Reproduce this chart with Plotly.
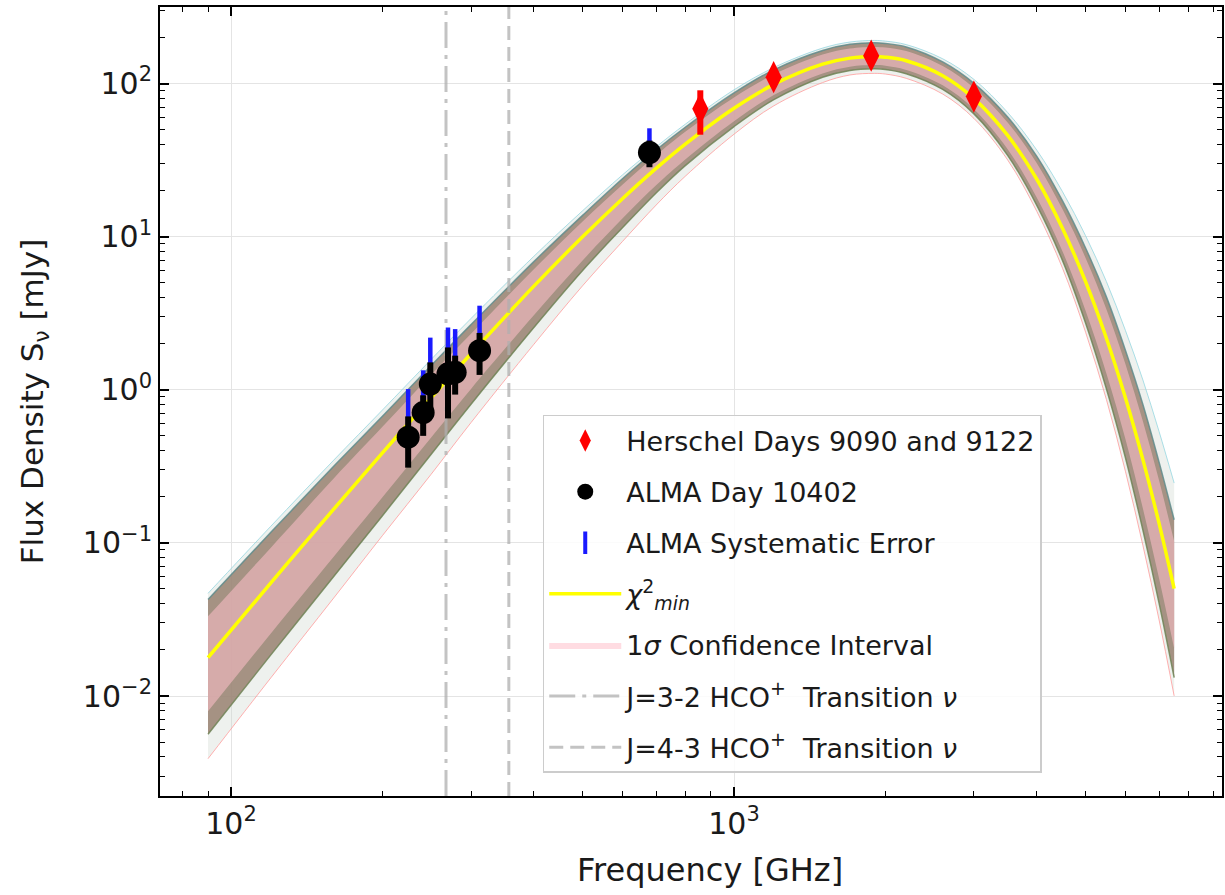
import plotly.graph_objects as go

# ---------------- data ----------------
# model frequency grid [GHz]
freq_model = [90, 120, 160, 200, 250, 300, 400, 500, 600, 700, 800, 1000, 1200,
              1500, 1700, 1900, 2000, 2200, 2600, 3000, 3500, 4000, 4500, 5000,
              5500, 6000, 6500, 7000, 7500]

# best-fit (chi^2 minimum) SED [mJy]
chi2_min = [0.0178, 0.0548, 0.166, 0.387, 0.888, 1.72, 4.75, 9.98, 17.7, 27.9,
            40.2, 69.0, 98.7, 133.7, 146.5, 150.0, 148.6, 140.9, 112.5, 79.7,
            45.8, 23.7, 11.3, 5.08, 2.17, 0.887, 0.350, 0.134, 0.0502]

# 1-sigma confidence interval
sigma_lo = [0.00795, 0.02564, 0.08131, 0.1985, 0.4880, 1.013, 3.067, 6.985, 13.12,
            21.65, 31.93, 56.73, 84.03, 116.4, 128.8, 131.9, 130.6, 122.7, 97.32,
            67.86, 37.24, 17.97, 8.000, 3.281, 1.278, 0.4764, 0.1675, 0.05850, 0.02045]
sigma_hi = [0.03313, 0.09307, 0.2631, 0.5724, 1.254, 2.320, 6.119, 12.56, 21.78,
            33.94, 48.33, 81.05, 114.6, 154.6, 169.3, 173.4, 171.8, 162.9, 130.1,
            93.64, 55.69, 30.17, 15.07, 7.259, 3.361, 1.472, 0.6223, 0.2553, 0.1025]

# envelope of the bulk of the sampled model curves
models_lo = [0.00563, 0.01857, 0.06027, 0.1506, 0.3789, 0.8043, 2.551, 6.013, 11.43,
             19.30, 29.12, 52.34, 78.41, 109.9, 121.8, 124.8, 123.6, 115.9, 91.46,
             63.33, 33.96, 16.02, 6.968, 2.729, 1.015, 0.3613, 0.1214, 0.04047, 0.01320]
models_hi = [0.0427, 0.1172, 0.3163, 0.6725, 1.440, 2.664, 6.866, 13.77, 23.88,
             36.78, 51.80, 86.85, 122.9, 164.5, 180.3, 184.6, 182.8, 173.4, 138.4,
             100.3, 60.38, 33.47, 17.10, 8.432, 4.042, 1.811, 0.8017, 0.3366, 0.1415]

# outermost sampled model curves
outer_lo = [0.003895, 0.01315, 0.04366, 0.1116, 0.2809, 0.6103, 1.980, 4.777, 9.290,
            16.06, 24.79, 46.65, 71.51, 101.4, 113.7, 116.5, 115.3, 108.1, 85.35,
            59.09, 31.69, 14.61, 6.210, 2.376, 0.8641, 0.2937, 0.09641, 0.03141, 0.01002]
outer_hi = [0.04681, 0.1285, 0.3468, 0.7374, 1.579, 2.921, 7.441, 14.76, 25.29,
            38.51, 54.23, 90.95, 127.2, 170.3, 186.6, 191.1, 189.2, 179.5, 145.0,
            106.3, 64.70, 36.70, 19.64, 10.14, 5.088, 2.443, 1.159, 0.5335, 0.2459]

# Herschel photometry (days 9090 and 9122)
herschel_freq = [857, 1199, 1874, 2998]
herschel_flux = [68.3, 110.0, 152.0, 82.2]
herschel_err = [22.0, 15.0, 20.0, 10.0]

# ALMA photometry (day 10402)
alma_freq = [225, 241, 249, 270, 279, 312, 679]
alma_flux = [0.49, 0.71, 1.09, 1.27, 1.30, 1.80, 35.4]
alma_err = [0.18, 0.21, 0.42, 0.62, 0.37, 0.55, 7.0]
alma_sys = [0.52, 0.63, 1.10, 1.28, 1.19, 1.74, 15.6]
alma_sys_lower = [0, 0, 0, 0, 0, 0, 0]

# HCO+ rest transition frequencies [GHz]
hco_32 = 267.56
hco_43 = 356.73

# axis limits (log10)
X_RANGE = [1.8588, 3.9702]
Y_RANGE = [-2.653, 2.4997]

FONT = "DejaVu Sans"
TXT = "#1a1a1a"

fig = go.Figure()

# outermost model curves
fig.add_trace(go.Scatter(x=freq_model, y=outer_lo, mode="lines",
                         line=dict(color="rgba(255,150,150,0.75)", width=1, shape="spline"),
                         showlegend=False, hoverinfo="skip"))
fig.add_trace(go.Scatter(x=freq_model, y=outer_hi, mode="lines", fill="tonexty",
                         fillcolor="rgba(205,215,205,0.35)",
                         line=dict(color="rgba(150,215,225,0.8)", width=1, shape="spline"),
                         showlegend=False, hoverinfo="skip"))
# bulk of the model curves
fig.add_trace(go.Scatter(x=freq_model, y=models_lo, mode="lines",
                         line=dict(color="rgba(110,130,85,0.85)", width=1.5, shape="spline"),
                         showlegend=False, hoverinfo="skip"))
fig.add_trace(go.Scatter(x=freq_model, y=models_hi, mode="lines", fill="tonexty",
                         fillcolor="rgba(155,132,116,0.88)",
                         line=dict(color="rgba(95,140,140,0.85)", width=1.5, shape="spline"),
                         showlegend=False, hoverinfo="skip"))
# 1 sigma band
fig.add_trace(go.Scatter(x=freq_model, y=sigma_lo, mode="lines",
                         line=dict(width=0, shape="spline"),
                         showlegend=False, hoverinfo="skip", legendgroup="sig"))
fig.add_trace(go.Scatter(x=freq_model, y=sigma_hi, mode="lines", fill="tonexty",
                         fillcolor="rgba(255,192,203,0.55)",
                         line=dict(width=0, shape="spline"),
                         name="1<i>σ</i> Confidence Interval", legendgroup="sig",
                         legendrank=5))
# best fit
fig.add_trace(go.Scatter(x=freq_model, y=chi2_min, mode="lines",
                         line=dict(color="#ffff00", width=3.5, shape="spline"),
                         name="<i>χ</i><sup>2</sup><sub><i>min</i></sub>",
                         legendgroup="chi", legendrank=4))

# HCO+ transition lines spanning the full y range
y_span = [10 ** Y_RANGE[0], 10 ** Y_RANGE[1]]
fig.add_trace(go.Scatter(x=[hco_32, hco_32], y=y_span, mode="lines",
                         line=dict(color="rgba(175,175,175,0.75)", width=3,
                                   dash="26px,7px,4px,7px"),
                         name="J=3-2 HCO<sup>+</sup>  Transition <i>ν</i>",
                         legendgroup="j32", legendrank=6))
fig.add_trace(go.Scatter(x=[hco_43, hco_43], y=y_span, mode="lines",
                         line=dict(color="rgba(175,175,175,0.75)", width=3,
                                   dash="14px,7px"),
                         name="J=4-3 HCO<sup>+</sup>  Transition <i>ν</i>",
                         legendgroup="j43", legendrank=7))

# ALMA systematic error (upper)
fig.add_trace(go.Scatter(x=alma_freq, y=alma_flux, mode="markers",
                         marker=dict(symbol="line-ns", size=16,
                                     line=dict(color="#1a1aff", width=4)),
                         error_y=dict(type="data", array=alma_sys, arrayminus=alma_sys_lower,
                                      color="#1a1aff", thickness=4.5, width=0),
                         name="ALMA Systematic Error", legendgroup="sys", legendrank=3))
# ALMA measurements
fig.add_trace(go.Scatter(x=alma_freq, y=alma_flux, mode="markers",
                         marker=dict(symbol="circle", size=23, color="black"),
                         error_y=dict(type="data", array=alma_err, color="black",
                                      thickness=6, width=0),
                         name="ALMA Day 10402", legendgroup="alma", legendrank=2))
# Herschel measurements
fig.add_trace(go.Scatter(x=herschel_freq, y=herschel_flux, mode="markers",
                         marker=dict(symbol="diamond-tall", size=23, color="red"),
                         error_y=dict(type="data", array=herschel_err, color="red",
                                      thickness=6, width=0),
                         name="Herschel Days 9090 and 9122", legendgroup="her",
                         legendrank=1))

x_minor = [m * 10 ** d for d in (1, 2, 3) for m in range(2, 10)]
y_minor = [m * 10.0 ** d for d in (-3, -2, -1, 0, 1, 2) for m in range(2, 10)]

axis_common = dict(
    showline=True, linecolor="black", linewidth=2, mirror="allticks",
    ticks="inside", ticklen=9, tickwidth=1.5, tickcolor="black",
    showgrid=True, gridcolor="#e4e4e4", gridwidth=1, zeroline=False,
    tickfont=dict(family=FONT, size=30, color=TXT),
)

fig.update_xaxes(
    type="log", range=X_RANGE,
    tickmode="array", tickvals=[100, 1000],
    ticktext=["10<sup>2</sup>", "10<sup>3</sup>"],
    minor=dict(tickmode="array", tickvals=x_minor, ticks="inside", ticklen=5,
               tickwidth=1.2, tickcolor="black", showgrid=False),
    **axis_common,
)
fig.update_yaxes(
    type="log", range=Y_RANGE,
    tickmode="array", tickvals=[0.01, 0.1, 1, 10, 100],
    ticktext=["10<sup>−2</sup>", "10<sup>−1</sup>", "10<sup>0</sup>",
              "10<sup>1</sup>", "10<sup>2</sup>"],
    minor=dict(tickmode="array", tickvals=y_minor, ticks="inside", ticklen=5,
               tickwidth=1.2, tickcolor="black", showgrid=False),
    title=dict(text="Flux Density S<sub>ν</sub> [mJy]",
               font=dict(family=FONT, size=31, color=TXT), standoff=30),
    **axis_common,
)

# x-axis label
fig.add_annotation(text="Frequency [GHz]", xref="paper", yref="paper",
                   x=0.518, y=-0.094, xanchor="center", yanchor="middle",
                   showarrow=False, font=dict(family=FONT, size=32, color=TXT))

fig.update_layout(
    width=1225, height=895,
    margin=dict(l=160, r=3, t=7, b=99, autoexpand=False),
    paper_bgcolor="white", plot_bgcolor="white",
    font=dict(family=FONT, color=TXT),
    legend=dict(
        x=0.3604, y=0.4829, xanchor="left", yanchor="top",
        bgcolor="rgba(255,255,255,0.85)", bordercolor="#cccccc", borderwidth=1.5,
        font=dict(family=FONT, size=27, color=TXT),
        tracegroupgap=13, traceorder="grouped", itemwidth=72,
    ),
)

fig.write_html("out.html")
